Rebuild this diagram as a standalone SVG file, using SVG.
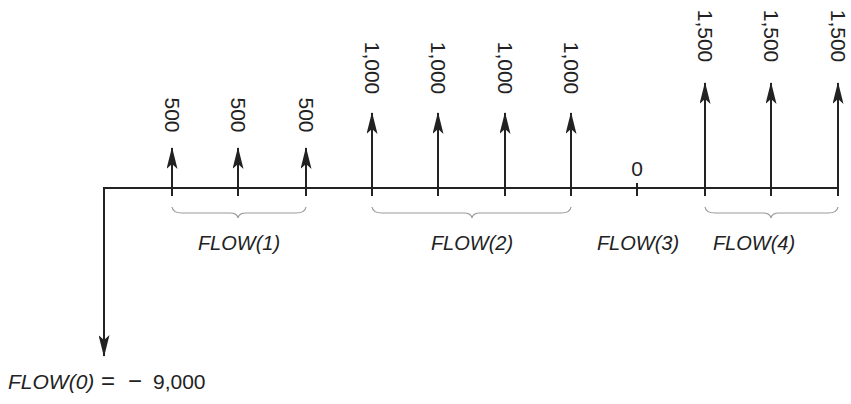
<svg xmlns="http://www.w3.org/2000/svg" width="851" height="404" viewBox="0 0 851 404">
<defs>
<marker id="ah" viewBox="0 0 22 11" refX="21" refY="5.5" markerWidth="22" markerHeight="11" markerUnits="userSpaceOnUse" orient="auto"><path d="M0,0 L22,5.5 L0,11 L5,5.5 z" fill="#222"/></marker>
</defs>
<style>
.ln{stroke:#222;stroke-width:2;fill:none}
.ar{stroke:#222;stroke-width:2;fill:none;marker-end:url(#ah)}
.br{stroke:#999;stroke-width:1.2;fill:none}
.v{font-family:"Liberation Sans",Arial,sans-serif;font-size:21px;fill:#222;text-anchor:middle;dominant-baseline:central}
.f{font-family:"Liberation Sans",Arial,sans-serif;font-size:20px;font-style:italic;fill:#222;text-anchor:middle}
</style>
<rect width="851" height="404" fill="#fff"/>
<g id="connectors">
<line class="ln" x1="103" y1="188" x2="838" y2="188"/>
<line class="ar" x1="104" y1="188" x2="104" y2="356"/>
<line class="ar" x1="172" y1="196" x2="172" y2="148"/>
<line class="ar" x1="238" y1="196" x2="238" y2="148"/>
<line class="ar" x1="306" y1="196" x2="306" y2="148"/>
<line class="ar" x1="372" y1="196" x2="372" y2="113"/>
<line class="ar" x1="438" y1="196" x2="438" y2="113"/>
<line class="ar" x1="505" y1="196" x2="505" y2="113"/>
<line class="ar" x1="571" y1="196" x2="571" y2="113"/>
<line class="ln" x1="637" y1="183" x2="637" y2="196"/>
<line class="ar" x1="705" y1="196" x2="705" y2="83"/>
<line class="ar" x1="771" y1="196" x2="771" y2="83"/>
<line class="ar" x1="838" y1="196" x2="838" y2="83"/>
</g>
<g id="labels">
<text class="v" transform="translate(172,115) rotate(90)">500</text>
<text class="v" transform="translate(238,115) rotate(90)">500</text>
<text class="v" transform="translate(306,115) rotate(90)">500</text>
<text class="v" transform="translate(372,68) rotate(90)">1,000</text>
<text class="v" transform="translate(438,68) rotate(90)">1,000</text>
<text class="v" transform="translate(505,68) rotate(90)">1,000</text>
<text class="v" transform="translate(571,68) rotate(90)">1,000</text>
<text class="v" x="637" y="168">0</text>
<text class="v" transform="translate(705,36) rotate(90)">1,500</text>
<text class="v" transform="translate(771,36) rotate(90)">1,500</text>
<text class="v" transform="translate(838,36) rotate(90)">1,500</text>
</g>
<g id="braces">
<path class="br" d="M172,207 Q173,213 182,213 L230,213 Q237,213 238,218 Q239,213 246,213 L296,213 Q305,213 306,207"/>
<path class="br" d="M372,207 Q373,213 382,213 L464,213 Q471,213 472,218 Q473,213 480,213 L561,213 Q570,213 571,207"/>
<path class="br" d="M705,207 Q706,213 715,213 L763,213 Q770,213 771,218 Q772,213 779,213 L828,213 Q837,213 838,207"/>
</g>
<g id="flow1"><text class="f" x="239" y="250">FLOW(1)</text></g>
<g id="flow2"><text class="f" x="472" y="250">FLOW(2)</text></g>
<g id="flow3"><text class="f" x="638" y="250">FLOW(3)</text></g>
<g id="flow4"><text class="f" x="754" y="250">FLOW(4)</text></g>
<g id="flow0"><text x="8" y="389" font-family="Liberation Sans,Arial,sans-serif" font-size="21" fill="#222"><tspan font-style="italic">FLOW(0)</tspan><tspan x="101" font-size="24">=</tspan><tspan x="128" font-size="24">−</tspan><tspan x="153">9,000</tspan></text></g>
</svg>
